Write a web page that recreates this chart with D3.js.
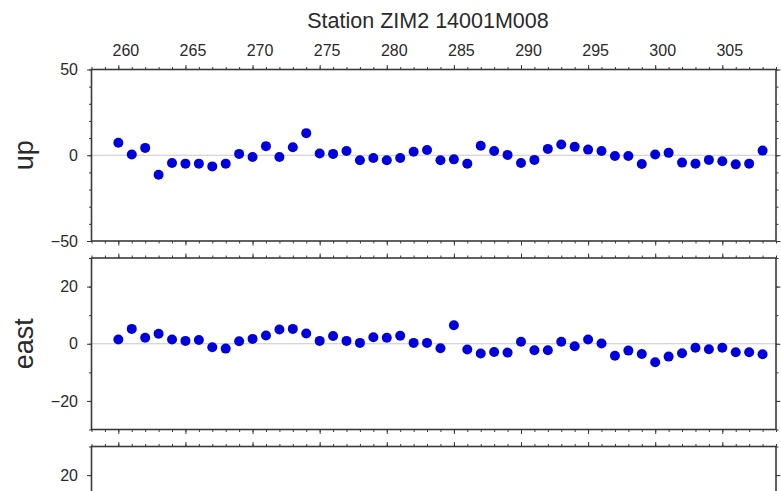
<!DOCTYPE html>
<html><head><meta charset="utf-8">
<script src="https://cdn.jsdelivr.net/npm/d3@7"></script>
<style>
html,body{margin:0;padding:0;background:#fff;}
svg{display:block;font-family:"Liberation Sans",Arial,Helvetica,sans-serif;}
</style></head>
<body><svg id="c" width="781" height="491"></svg>
<script>
const title = "Station ZIM2 14001M008";
const days = [260,261,262,263,264,265,266,267,268,269,270,271,272,273,274,275,276,277,278,279,280,281,282,283,284,285,286,287,288,289,290,291,292,293,294,295,296,297,298,299,300,301,302,303,304,305,306,307,308];
const upValues = [7.3,0.4,4.3,-11.4,-4.5,-4.9,-4.9,-6.5,-4.9,0.8,-1.0,5.3,-1.0,4.7,12.9,1.0,0.8,2.5,-2.9,-1.6,-2.9,-1.6,2.0,3.1,-2.9,-2.4,-4.9,5.5,2.5,0.2,-4.5,-2.7,3.7,6.3,4.9,3.3,2.5,-0.4,-0.4,-5.1,0.4,1.4,-4.3,-4.9,-2.7,-3.5,-5.3,-4.9,2.7];
const eastValues = [1.5,5.2,2.1,3.5,1.5,1.0,1.3,-1.2,-1.7,0.9,1.7,2.9,5.0,5.2,3.6,1.0,2.7,1.0,0.3,2.3,2.1,2.8,0.3,0.3,-1.6,6.5,-2.0,-3.4,-2.9,-3.1,0.7,-2.3,-2.3,0.7,-0.9,1.5,0.1,-4.2,-2.4,-3.6,-6.5,-4.5,-3.3,-1.4,-1.9,-1.4,-3.0,-3.0,-3.7];
const xTickLabels = [260,265,270,275,280,285,290,295,300,305];
const upTicks = [-50,0,50];
const enTicks = [-20,0,20];
const thirdVisibleTicks = [20];

const svg = d3.select("#c");
const left = 91.5, right = 776, ph = 171.5, gap = 17;
const tops = [69.5, 69.5 + ph + gap, 69.5 + 2*(ph + gap)];
const x = d3.scaleLinear().domain([258, 309]).range([left, right]);
const frameCol = "#3a3a3a", textCol = "#2a2a2a";

const panels = [
  {name:"up", vals:upValues, domain:[-50,50], major:upTicks, labeled:upTicks, minorStep:10},
  {name:"east", vals:eastValues, domain:[-30,30], major:enTicks, labeled:enTicks, minorStep:10},
  {name:null, vals:null, domain:[-30,30], major:enTicks, labeled:thirdVisibleTicks, minorStep:10}
];

const xMinor = d3.range(258, 310, 1);

panels.forEach((p, i) => {
  const top = tops[i];
  const y = d3.scaleLinear().domain(p.domain).range([top + ph, top]);
  const g = svg.append("g");
  g.append("line").attr("x1", left).attr("x2", right)
    .attr("y1", y(0)).attr("y2", y(0))
    .attr("stroke", "#c8c8c8").attr("stroke-width", 1);
  const yMinor = d3.range(p.domain[0], p.domain[1] + 0.001, p.minorStep);
  function styleAxis(sel){
    sel.select(".domain").remove();
    sel.selectAll("line").attr("stroke", frameCol).attr("stroke-width", 1);
    sel.selectAll("text").attr("fill", textCol).style("font-size", "16px")
      .style("font-family", '"Liberation Sans",Arial,Helvetica,sans-serif');
  }
  const yl = g.append("g").attr("transform", `translate(${left},0)`)
    .call(d3.axisLeft(y).tickValues(yMinor).tickSize(2.5).tickFormat(""));
  styleAxis(yl);
  const ylm = g.append("g").attr("transform", `translate(${left},0)`)
    .call(d3.axisLeft(y).tickValues(p.major).tickSize(4.5).tickFormat(""));
  styleAxis(ylm);
  const yll = g.append("g").attr("transform", `translate(${left},0)`)
    .call(d3.axisLeft(y).tickValues(p.labeled).tickSize(0).tickPadding(13.5)
      .tickFormat(d => d < 0 ? "\u2212" + Math.abs(d) : String(d)));
  styleAxis(yll);
  const yr = g.append("g").attr("transform", `translate(${right},0)`)
    .call(d3.axisRight(y).tickValues(yMinor).tickSize(2.5).tickFormat(""));
  styleAxis(yr);
  const yrm = g.append("g").attr("transform", `translate(${right},0)`)
    .call(d3.axisRight(y).tickValues(p.major).tickSize(4.5).tickFormat(""));
  styleAxis(yrm);
  const xt = g.append("g").attr("transform", `translate(0,${top})`)
    .call(d3.axisTop(x).tickValues(xMinor).tickSize(2.5).tickFormat(""));
  styleAxis(xt);
  const xtm = g.append("g").attr("transform", `translate(0,${top})`)
    .call(d3.axisTop(x).tickValues(xTickLabels).tickSize(4.5).tickPadding(9)
      .tickFormat(i === 0 ? d3.format("d") : ""));
  styleAxis(xtm);
  xtm.selectAll("text").attr("dx", 7);
  const xb = g.append("g").attr("transform", `translate(0,${top + ph})`)
    .call(d3.axisBottom(x).tickValues(xMinor).tickSize(2.5).tickFormat(""));
  styleAxis(xb);
  const xbm = g.append("g").attr("transform", `translate(0,${top + ph})`)
    .call(d3.axisBottom(x).tickValues(xTickLabels).tickSize(4.5).tickFormat(""));
  styleAxis(xbm);
  g.append("rect").attr("x", left).attr("y", top).attr("width", right - left).attr("height", ph)
    .attr("fill", "none").attr("stroke", frameCol).attr("stroke-width", 1.6);
  if (p.vals) {
    g.selectAll("circle").data(days.map((d, k) => [d, p.vals[k]])).join("circle")
      .attr("cx", d => x(d[0])).attr("cy", d => y(d[1])).attr("r", 5)
      .attr("fill", "#0000dc");
  }
  if (p.name) {
    g.append("text").attr("transform", `translate(33,${top + ph/2}) rotate(-90)`)
      .attr("text-anchor", "middle").attr("fill", textCol)
      .style("font-size", "27px").text(p.name);
  }
});

svg.append("text").attr("x", 428).attr("y", 27.5).attr("text-anchor", "middle")
  .attr("fill", textCol).style("font-size", "21.5px").text(title);
</script></body></html>
